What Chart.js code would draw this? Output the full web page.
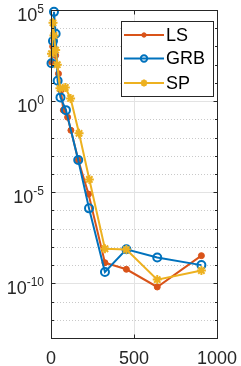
<!DOCTYPE html>
<html>
<head>
<meta charset="utf-8">
<script src="https://cdn.jsdelivr.net/npm/chart.js@4/dist/chart.umd.min.js"></script>
<style>
html,body{margin:0;padding:0;background:#fff;}
#wrap{position:relative;width:241px;height:366px;}
</style>
</head>
<body>
<div id="wrap"><canvas id="c" width="241" height="366"></canvas></div>
<script>
// ---- data ----
const seriesLabels = ['LS', 'GRB', 'SP'];
const seriesColors = ['#D95319', '#0072BD', '#EDB120'];

const lsX = [3, 10, 18, 28, 45, 60, 74, 100, 120, 164, 226, 325, 454, 640, 906];
const lsY = [1.4e2, 1.0e3, 2.0e3, 3.2e2, 3.2e1, 4.0e0, 3.2e-1, 1.3e-1, 2.5e-2, 5.8e-4, 7.9e-6, 1.35e-9, 5.9e-10, 6.3e-11, 3.3e-9];

const grbX = [3, 12, 18, 28, 40, 57, 90, 164, 229, 325, 454, 640, 906];
const grbY = [1.2e2, 2.0e3, 7.9e4, 5.0e3, 1.3e1, 1.6e0, 3.2e-1, 5.8e-4, 1.3e-6, 4.2e-10, 7.4e-9, 2.6e-9, 1.0e-9];

const spX = [3, 12, 18, 28, 38, 54, 86, 118, 169, 231, 325, 454, 640, 906];
const spY = [4.0e2, 2.0e4, 4.0e3, 6.3e2, 1.0e2, 5.0e0, 5.6e0, 1.4e0, 1.7e-2, 5.0e-5, 7.9e-9, 7.1e-9, 1.6e-10, 5.0e-10];

const xTickValues = [0, 500, 1000];
const yTickExponents = [5, 0, -5, -10];
const yMinExp = -13, yMaxExp = 5;

function pts(xs, ys) { return xs.map((x, i) => ({x: x, y: ys[i]})); }

const FONT = '"Liberation Sans", Arial, Helvetica, sans-serif';
const AXIS = '#262626';

const decor = {
  id: 'decor',
  beforeDatasetsDraw(chart) {
    const ctx = chart.ctx, a = chart.chartArea;
    const xs = chart.scales.x, ys = chart.scales.y;
    ctx.save();
    ctx.strokeStyle = '#c9c9c9';
    ctx.lineWidth = 1;
    ctx.setLineDash([1, 2]);
    for (let e = yMinExp; e <= yMaxExp; e++) {
      if (yTickExponents.includes(e)) continue;
      const y = Math.round(ys.getPixelForValue(Math.pow(10, e))) + 0.5;
      ctx.beginPath(); ctx.moveTo(a.left, y); ctx.lineTo(a.right, y); ctx.stroke();
    }
    ctx.setLineDash([]);
    ctx.strokeStyle = '#e3e3e3';
    yTickExponents.forEach(e => {
      const y = Math.round(ys.getPixelForValue(Math.pow(10, e))) + 0.5;
      ctx.beginPath(); ctx.moveTo(a.left, y); ctx.lineTo(a.right, y); ctx.stroke();
    });
    xTickValues.forEach(v => {
      const x = Math.round(xs.getPixelForValue(v)) + 0.5;
      ctx.beginPath(); ctx.moveTo(x, a.top); ctx.lineTo(x, a.bottom); ctx.stroke();
    });
    ctx.restore();
  },
  afterDatasetsDraw(chart) {
    const ctx = chart.ctx, a = chart.chartArea;
    const xs = chart.scales.x, ys = chart.scales.y;
    ctx.save();
    ctx.strokeStyle = AXIS;
    ctx.lineWidth = 1;
    const L = Math.round(a.left) + 0.5, R = Math.round(a.right) + 0.5;
    const T = Math.round(a.top) + 0.5, B = Math.round(a.bottom) + 0.5;
    ctx.strokeRect(L, T, R - L, B - T);
    for (let e = yMinExp; e <= yMaxExp; e++) {
      const y = Math.round(ys.getPixelForValue(Math.pow(10, e))) + 0.5;
      const len = yTickExponents.includes(e) ? 4 : 2.5;
      ctx.beginPath();
      ctx.moveTo(L, y); ctx.lineTo(L + len, y);
      ctx.moveTo(R, y); ctx.lineTo(R - len, y);
      ctx.stroke();
    }
    xTickValues.forEach(v => {
      const x = Math.round(xs.getPixelForValue(v)) + 0.5;
      ctx.beginPath();
      ctx.moveTo(x, B); ctx.lineTo(x, B - 4);
      ctx.moveTo(x, T); ctx.lineTo(x, T + 4);
      ctx.stroke();
    });
    ctx.fillStyle = AXIS;
    ctx.font = '18px ' + FONT;
    ctx.textAlign = 'center';
    ctx.textBaseline = 'alphabetic';
    xTickValues.forEach(v => {
      ctx.fillText(String(v), xs.getPixelForValue(v), 364);
    });
    yTickExponents.forEach(e => {
      const y = ys.getPixelForValue(Math.pow(10, e));
      ctx.font = '18px ' + FONT;
      const wb = ctx.measureText('10').width;
      ctx.font = '12px ' + FONT;
      const es = String(e);
      const we = ctx.measureText(es).width;
      const right = 44;
      const x0 = right - we - wb;
      ctx.textAlign = 'left';
      ctx.font = '18px ' + FONT;
      ctx.fillText('10', x0, y + 10.5);
      ctx.font = '12px ' + FONT;
      ctx.fillText(es, x0 + wb, y + 3);
    });
    ctx.restore();
  },
  afterDraw(chart) {
    const ctx = chart.ctx;
    ctx.save();
    const bx = 121.5, by = 21.5, bw = 92, bh = 75;
    ctx.fillStyle = '#fff';
    ctx.fillRect(bx, by, bw, bh);
    ctx.strokeStyle = AXIS;
    ctx.lineWidth = 1;
    ctx.strokeRect(bx, by, bw, bh);
    const rows = [35, 58.5, 83];
    const ds = chart.data.datasets;
    rows.forEach((ry, i) => {
      const d = ds[i];
      ctx.strokeStyle = d.borderColor;
      ctx.lineWidth = 2;
      ctx.beginPath(); ctx.moveTo(124, ry); ctx.lineTo(164, ry); ctx.stroke();
      ctx.fillStyle = d.pointBackgroundColor;
      ctx.strokeStyle = d.pointBorderColor;
      ctx.lineWidth = d.pointBorderWidth;
      if (d.pointStyle === 'circle') {
        ctx.beginPath();
        ctx.arc(144, ry, d.pointRadius - 0.8, 0, Math.PI * 2);
        ctx.fill(); ctx.stroke();
      } else {
        Chart.helpers.drawPoint(ctx, {
          pointStyle: d.pointStyle, radius: d.pointRadius - 1, borderWidth: d.pointBorderWidth, rotation: 0
        }, 144, ry);
      }
      ctx.fillStyle = '#000';
      ctx.font = '18px ' + FONT;
      ctx.textAlign = 'left';
      ctx.textBaseline = 'middle';
      ctx.fillText(d.label, 166, ry + 1);
    });
    ctx.restore();
  }
};

const datasets = [
  {label: seriesLabels[0], data: pts(lsX, lsY), borderColor: seriesColors[0], backgroundColor: seriesColors[0],
   pointStyle: 'circle', pointRadius: 3, pointBackgroundColor: seriesColors[0], pointBorderColor: seriesColors[0], pointBorderWidth: 1, order: 3},
  {label: seriesLabels[1], data: pts(grbX, grbY), borderColor: seriesColors[1], backgroundColor: seriesColors[1],
   pointStyle: 'circle', pointRadius: 4, pointBackgroundColor: 'rgba(255,255,255,0)', pointBorderColor: seriesColors[1], pointBorderWidth: 2, order: 2},
  {label: seriesLabels[2], data: pts(spX, spY), borderColor: seriesColors[2], backgroundColor: seriesColors[2],
   pointStyle: 'star', pointRadius: 4.5, pointBackgroundColor: seriesColors[2], pointBorderColor: seriesColors[2], pointBorderWidth: 2, order: 1}
];
datasets.forEach(d => { d.borderWidth = 2; d.tension = 0; d.fill = false; d.clip = false; d.pointHoverRadius = d.pointRadius; });

new Chart(document.getElementById('c'), {
  type: 'line',
  data: {datasets: datasets},
  options: {
    responsive: false,
    animation: false,
    events: [],
    layout: {padding: {left: 51, right: 24, top: 10, bottom: 28}},
    scales: {
      x: {type: 'linear', min: 0, max: 1000, display: false},
      y: {type: 'logarithmic', min: Math.pow(10, yMinExp), max: Math.pow(10, yMaxExp), display: false}
    },
    plugins: {legend: {display: false}, tooltip: {enabled: false}}
  },
  plugins: [decor]
});
</script>
</body>
</html>
